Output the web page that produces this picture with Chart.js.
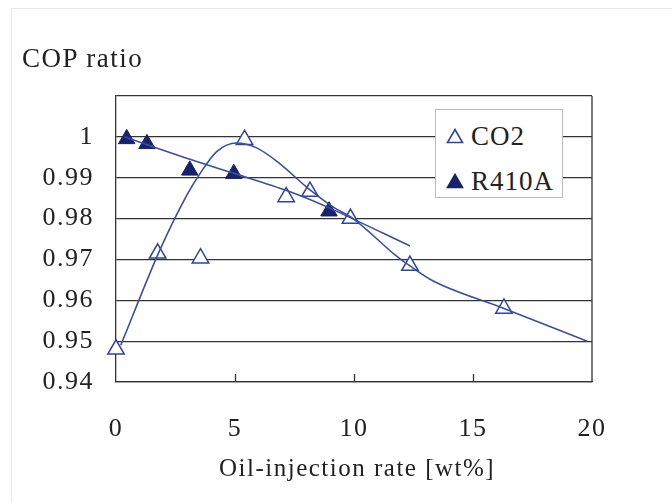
<!DOCTYPE html>
<html lang="en">
<head>
  <meta charset="UTF-8">
  <title>COP ratio vs oil-injection rate</title>
  <script src="https://cdn.jsdelivr.net/npm/chart.js"></script>
  <style>
    body {
      margin: 0;
      background: #fff;
      font-family: "Liberation Serif", "Times New Roman", serif;
      color: #222;
    }
    .wrap {
      position: relative;
      width: 672px;
      height: 502px;
      overflow: hidden;
    }
    .frame {
      position: absolute;
      left: 11px;
      top: 8px;
      width: 700px;
      height: 600px;
      border-left: 1px solid #e6e6e6;
      border-top: 1px solid #e6e6e6;
    }
    canvas { position: absolute; left: 0; top: 0; }
    .ytitle {
      position: absolute;
      left: 22px;
      top: 45px;
      font-size: 27px;
      line-height: 27px;
      letter-spacing: 1.5px;
      white-space: nowrap;
    }
    .xtitle {
      position: absolute;
      left: 219px;
      top: 455px;
      font-size: 25px;
      line-height: 25px;
      letter-spacing: 1.5px;
      white-space: nowrap;
    }
    .legend {
      position: absolute;
      left: 435px;
      top: 109px;
      width: 128px;
      height: 89px;
      background: #fff;
      border: 1px solid #bbb;
      box-sizing: border-box;
    }
    .legend .item {
      position: absolute;
      left: 10px;
      height: 30px;
      display: flex;
      align-items: center;
      font-size: 27px;
      letter-spacing: 1px;
    }
    .legend svg { margin-right: 7px; }
  </style>
</head>
<body>
  <div class="wrap">
    <div class="frame"></div>
    <canvas id="copChart" width="672" height="502"></canvas>
    <div class="ytitle">COP ratio</div>
    <div class="xtitle">Oil-injection rate [wt%]</div>
    <div class="legend" id="legend"></div>
  </div>

  <script>
    // measured points
    const co2X = [0, 1.75, 3.55, 5.4, 7.15, 8.15, 9.85, 12.35, 16.3];
    const co2Y = [0.948, 0.9715, 0.9703, 0.9993, 0.9853, 0.9866, 0.9800, 0.9685, 0.9580];
    const r410X = [0.45, 1.3, 3.1, 4.95, 8.95];
    const r410Y = [0.9995, 0.9983, 0.9918, 0.9910, 0.9818];

    // fitted curves
    const co2FitX = [0.2, 1.85, 3.0, 3.53, 4.23, 5.07, 5.91, 6.89, 8.01, 9.13, 9.96, 11.79, 12.35, 13.33, 16.3, 19.8];
    const co2FitY = [0.949, 0.9724, 0.986, 0.991, 0.9964, 0.9985, 0.9973, 0.9934, 0.9877, 0.9828, 0.980, 0.9708, 0.9684, 0.9647, 0.958, 0.950];
    const r410FitX = [0.35, 3.0, 5.0, 7.2, 9.0, 12.35];
    const r410FitY = [1.0, 0.9947, 0.991, 0.9868, 0.9825, 0.9733];

    const xTicks = [0, 5, 10, 15, 20];
    const yMin = 0.94, yMax = 1.01, yStep = 0.01;

    const lineColor = '#3a4ea3';
    const openColor = '#2f43a0';
    const fillColor = '#18226a';

    const pts = (xs, ys) => xs.map((x, i) => ({ x: x, y: ys[i] }));

    const frameLines = {
      id: 'frameLines',
      beforeLayout(chart) { chart.ctx.letterSpacing = '1.5px'; },
      beforeDraw(chart) { chart.ctx.letterSpacing = '1.5px'; },
      afterDraw(chart) {
        const { ctx, chartArea: a, scales: { x } } = chart;
        ctx.save();
        ctx.strokeStyle = '#333';
        ctx.lineWidth = 1.3;
        ctx.beginPath();
        ctx.moveTo(a.right, a.top);
        ctx.lineTo(a.right, a.bottom);
        xTicks.slice(1, -1).forEach(v => {
          const px = Math.round(x.getPixelForValue(v)) + 0.5;
          ctx.moveTo(px, a.bottom);
          ctx.lineTo(px, a.bottom - 8);
        });
        ctx.stroke();
        ctx.restore();
      }
    };

    const ctx = document.getElementById('copChart').getContext('2d');
    new Chart(ctx, {
      type: 'scatter',
      data: {
        datasets: [
          {
            label: 'CO2 fit',
            data: pts(co2FitX, co2FitY),
            showLine: true,
            borderColor: lineColor,
            borderWidth: 1.6,
            pointRadius: 0,
            cubicInterpolationMode: 'monotone',
            fill: false
          },
          {
            label: 'R410A fit',
            data: pts(r410FitX, r410FitY),
            showLine: true,
            borderColor: lineColor,
            borderWidth: 1.6,
            pointRadius: 0,
            tension: 0.3,
            fill: false
          },
          {
            label: 'CO2',
            data: pts(co2X, co2Y),
            clip: false,
            pointStyle: 'triangle',
            pointRadius: 9.5,
            pointBorderWidth: 1.5,
            pointBorderColor: openColor,
            pointBackgroundColor: '#fff'
          },
          {
            label: 'R410A',
            data: pts(r410X, r410Y),
            clip: false,
            pointStyle: 'triangle',
            pointRadius: 9.5,
            pointBorderWidth: 1,
            pointBorderColor: fillColor,
            pointBackgroundColor: fillColor
          }
        ]
      },
      options: {
        responsive: false,
        animation: false,
        layout: { padding: { top: 96, right: 80, bottom: 0, left: 0 } },
        plugins: {
          legend: { display: false },
          tooltip: { enabled: false }
        },
        scales: {
          x: {
            type: 'linear',
            min: 0,
            max: 20,
            afterFit(scale) { scale.height = 120; },
            afterBuildTicks(scale) { scale.ticks = xTicks.map(v => ({ value: v })); },
            grid: { drawOnChartArea: false, drawTicks: false },
            border: { color: '#333', width: 1.3 },
            ticks: {
              padding: 32,
              color: '#222',
              font: { family: 'Liberation Serif', size: 26 }
            }
          },
          y: {
            min: yMin,
            max: yMax,
            afterFit(scale) { scale.width = 116; },
            grid: { color: '#333', lineWidth: 1.2, drawTicks: false },
            border: { color: '#333', width: 1.3 },
            ticks: {
              stepSize: yStep,
              padding: 22,
              color: '#222',
              font: { family: 'Liberation Serif', size: 26 },
              callback: v => {
                const r = parseFloat(v.toFixed(2));
                return r > 1.005 ? '' : String(r);
              }
            }
          }
        }
      },
      plugins: [frameLines]
    });

    // legend built from series names and colours
    const legendItems = [
      { name: 'CO2', fill: '#fff', stroke: openColor },
      { name: 'R410A', fill: fillColor, stroke: fillColor }
    ];
    const legend = document.getElementById('legend');
    legendItems.forEach((it, i) => {
      const row = document.createElement('div');
      row.className = 'item';
      row.style.top = (11 + i * 45) + 'px';
      row.innerHTML =
        '<svg width="18" height="16" viewBox="0 0 18 16">' +
        '<polygon points="9,1.5 16.5,14.5 1.5,14.5" fill="' + it.fill +
        '" stroke="' + it.stroke + '" stroke-width="1.6"/></svg>' +
        '<span>' + it.name + '</span>';
      legend.appendChild(row);
    });
  </script>
</body>
</html>
